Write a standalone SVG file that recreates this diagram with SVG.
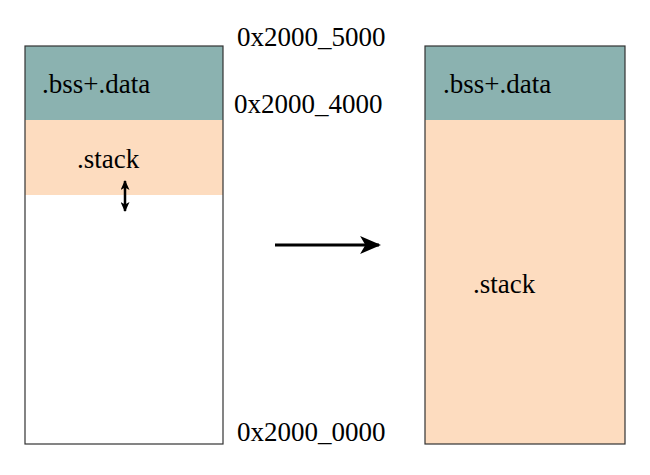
<svg xmlns="http://www.w3.org/2000/svg" width="650" height="475" viewBox="0 0 650 475">
<style>
text{font-family:"Liberation Serif","Times New Roman",serif;font-size:27px;fill:#000}
.teal{fill:#8BB2B0}
.peach{fill:#FDDCBF}
.frame{fill:none;stroke:#333;stroke-width:1.2}
.conn{stroke:#000;stroke-width:3;fill:none}
</style>
<defs>
<marker id="ah" viewBox="0 0 10 10" refX="9" refY="5" markerWidth="7" markerHeight="6" markerUnits="strokeWidth" orient="auto-start-reverse" preserveAspectRatio="none">
<path d="M0,0 L10,5 L0,10 L2.5,5 Z" fill="#000"/>
</marker>
<marker id="ah2" viewBox="0 0 10 10" refX="9" refY="5" markerWidth="4" markerHeight="3.6" markerUnits="strokeWidth" orient="auto-start-reverse" preserveAspectRatio="none">
<path d="M0,0 L10,5 L0,10 L2.5,5 Z" fill="#000"/>
</marker>
</defs>
<g id="left-memory">
<rect x="25" y="46" width="198" height="398" fill="#fff"/>
<rect class="teal" x="25" y="46" width="198" height="74"/>
<rect class="peach" x="25" y="120" width="198" height="75"/>
<rect class="frame" x="25" y="46" width="198" height="398"/>
<text x="42" y="93">.bss+.data</text>
<text x="77" y="168">.stack</text>
</g>
<g id="right-memory">
<rect class="teal" x="425" y="46" width="200" height="74"/>
<rect class="peach" x="425" y="120" width="200" height="324"/>
<rect class="frame" x="425" y="46" width="200" height="398"/>
<text x="443" y="93">.bss+.data</text>
<text x="473" y="293">.stack</text>
</g>
<g id="labels">
<text x="237" y="46">0x2000_5000</text>
<text x="234" y="113">0x2000_4000</text>
<text x="237" y="441">0x2000_0000</text>
</g>
<g id="connectors">
<line class="conn" x1="275" y1="245" x2="379" y2="245" marker-end="url(#ah)"/>
<line x1="125" y1="181" x2="125" y2="211" stroke="#000" stroke-width="2.5" marker-start="url(#ah2)" marker-end="url(#ah2)"/>
</g>
</svg>
